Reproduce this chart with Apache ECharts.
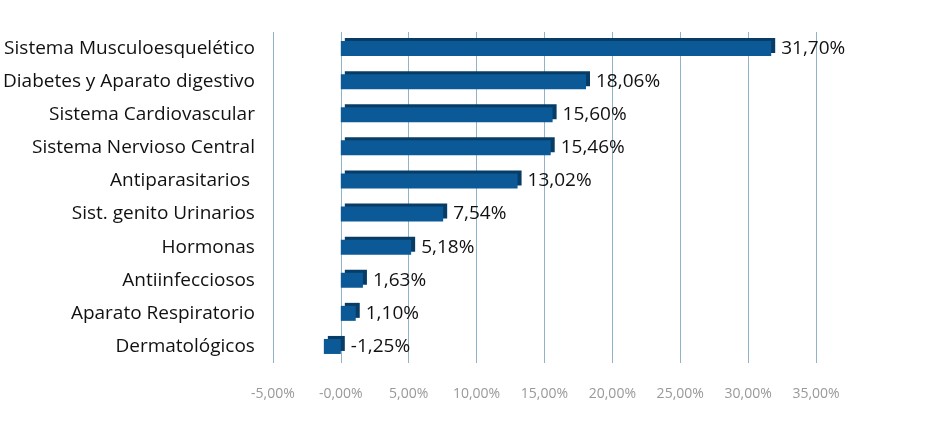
<!DOCTYPE html>
<html>
<head>
<meta charset="utf-8">
<script src="https://cdn.jsdelivr.net/npm/echarts@6/dist/echarts.min.js"></script>
<style>html,body{margin:0;background:#fff}</style>
</head>
<body>
<div id="main" style="width:927px;height:429px"></div>
<script>
// categories bottom to top
var categories = ['Dermatológicos', 'Aparato Respiratorio', 'Antiinfecciosos', 'Hormonas',
  'Sist. genito Urinarios', 'Antiparasitarios ', 'Sistema Nervioso Central',
  'Sistema Cardiovascular', 'Diabetes y Aparato digestivo', 'Sistema Musculoesquelético'];
var values = [-1.25, 1.10, 1.63, 5.18, 7.54, 13.02, 15.46, 15.60, 18.06, 31.70];
var tickLabels = ['-5,00%', '-0,00%', '5,00%', '10,00%', '15,00%', '20,00%', '25,00%', '30,00%', '35,00%'];

var myChart = echarts.init(document.getElementById('main'));
myChart.setOption({
  animation: false,
  grid: { left: 258, right: 111, top: 32, bottom: 66 },
  xAxis: {
    type: 'value', min: -5, max: 35, interval: 5,
    axisLine: { show: false }, axisTick: { show: false },
    splitLine: { lineStyle: { color: '#8fb3c9' } },
    axisLabel: {
      color: '#999', fontSize: 14, margin: 24, fontFamily: 'Open Sans',
      formatter: function (v) { return tickLabels[Math.round((v + 5) / 5)]; }
    }
  },
  yAxis: {
    type: 'category', data: categories,
    axisLine: { show: false, onZero: true }, axisTick: { show: false },
    axisLabel: { color: '#111', fontSize: 19, margin: 18, fontFamily: 'Open Sans' }
  },
  series: [{
    type: 'bar', data: values, barWidth: 15,
    itemStyle: {
      color: '#0b5996',
      shadowColor: '#073c66', shadowOffsetX: 4, shadowOffsetY: -3, shadowBlur: 0
    },
    label: {
      show: true, position: 'right', distance: 10, color: '#111', fontSize: 19,
      fontFamily: 'Open Sans',
      formatter: function (p) { return p.value.toFixed(2).replace('.', ',') + '%'; }
    }
  }]
});
</script>
</body>
</html>
